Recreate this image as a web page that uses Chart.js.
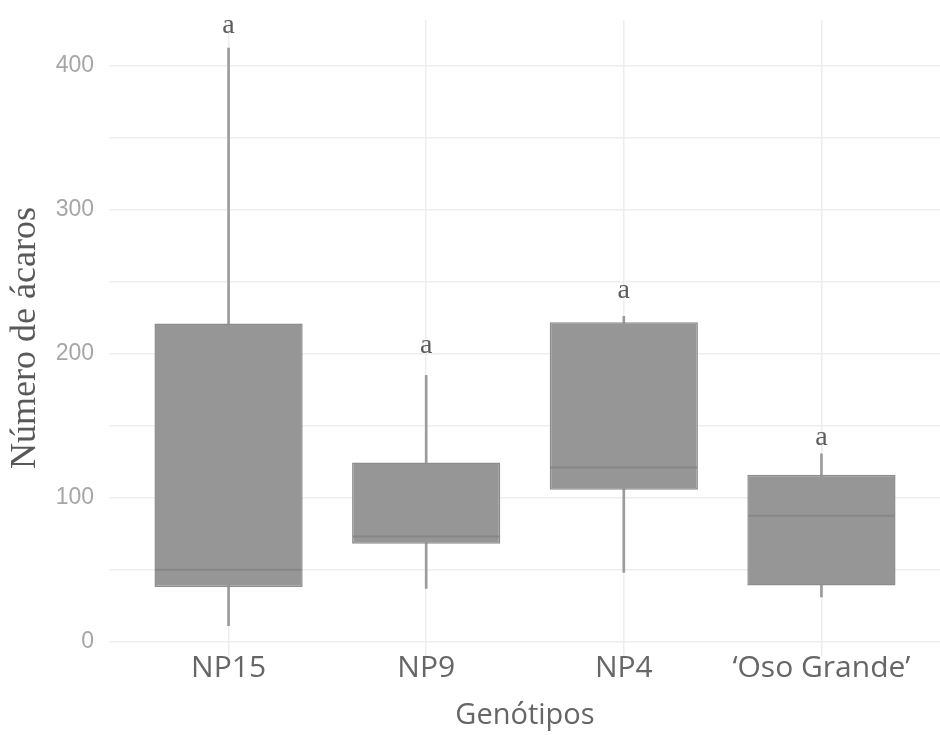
<!DOCTYPE html>
<html>
<head>
<meta charset="utf-8">
<script src="https://cdn.jsdelivr.net/npm/chart.js@4.4.1/dist/chart.umd.min.js"></script>
<style>
  html, body { margin: 0; padding: 0; background: #fff; }
  #wrap { width: 940px; height: 735px; }
</style>
</head>
<body>
<div id="wrap"><canvas id="grafiek" width="940" height="735"></canvas></div>
<script>
// waarden
const genotipos = ["NP15", "NP9", "NP4", "‘Oso Grande’"];
const minimo = [11, 37, 48, 31];
const q1 = [38, 68, 105.5, 39];
const mediana = [50, 73, 121, 87.5];
const q3 = [221, 124.5, 222, 116];
const maximo = [412.5, 185, 226, 130.5];
const letras = ["a", "a", "a", "a"];
const letraY = [428, 206, 244, 142];

const cajas = genotipos.map((g, i) => ({ x: i, y: [q1[i], q3[i]] }));
const bigotes = genotipos.map((g, i) => ({ x: i, y: [minimo[i], maximo[i]] }));

// mediaan en letters tekenen via de schalen van chart.js
const extras = {
  id: "extras",
  afterDatasetsDraw(chart) {
    const ctx = chart.ctx;
    const xs = chart.scales.x;
    const ys = chart.scales.y;
    const meta = chart.getDatasetMeta(1);
    ctx.save();
    meta.data.forEach((el, i) => {
      const y = ys.getPixelForValue(mediana[i]);
      ctx.strokeStyle = "#868686";
      ctx.lineWidth = 2;
      ctx.beginPath();
      ctx.moveTo(el.x - el.width / 2 + 1, y);
      ctx.lineTo(el.x + el.width / 2 - 1, y);
      ctx.stroke();
    });
    ctx.fillStyle = "#5c5c5c";
    ctx.font = "28px 'Liberation Serif'";
    ctx.textAlign = "center";
    ctx.textBaseline = "middle";
    letras.forEach((l, i) => {
      ctx.fillText(l, xs.getPixelForValue(i), ys.getPixelForValue(letraY[i]));
    });
    ctx.restore();
  }
};

new Chart(document.getElementById("grafiek"), {
  type: "bar",
  data: {
    datasets: [
      {
        label: "bigotes",
        data: bigotes,
        backgroundColor: "#9b9b9b",
        barThickness: 2,
        grouped: false,
        order: 2
      },
      {
        label: "cajas",
        data: cajas,
        backgroundColor: "#969696",
        borderColor: "#8d8d8d",
        borderWidth: 1.5,
        borderSkipped: false,
        barPercentage: 0.75,
        categoryPercentage: 1,
        grouped: false,
        order: 1
      }
    ]
  },
  options: {
    responsive: false,
    animation: false,
    layout: { padding: { top: 20, left: 0, right: 0, bottom: 0 } },
    plugins: { legend: { display: false }, tooltip: { enabled: false } },
    scales: {
      x: {
        type: "linear",
        min: -0.6,
        max: 3.6,
        offset: false,
        afterBuildTicks: (s) => {
          s.ticks = genotipos.map((g, i) => ({ value: i }));
        },
        afterFit: (s) => {
          s.height = 79;
          s.paddingLeft = 0;
          s.paddingRight = 0;
        },
        ticks: {
          callback: (v) => genotipos[v],
          color: "#666666",
          font: { family: "'Open Sans'", size: 30, lineHeight: 1 },
          padding: -3,
          maxRotation: 0,
          autoSkip: false
        },
        grid: { offset: false, color: "#eeeeee", lineWidth: 1.5, drawTicks: false },
        border: { display: false },
        title: {
          display: true,
          text: "Genótipos",
          color: "#666666",
          font: { family: "'Open Sans'", size: 29 },
          padding: { top: 0, bottom: 2 }
        }
      },
      y: {
        min: -10,
        max: 432,
        afterBuildTicks: (s) => {
          const t = [];
          for (let v = 0; v <= 400; v += 50) t.push({ value: v });
          s.ticks = t;
        },
        afterFit: (s) => {
          s.width = 110;
          s.paddingTop = 0;
          s.paddingBottom = 0;
        },
        ticks: {
          callback: (v) => (v % 100 === 0 ? v : ""),
          color: "#a6a6a6",
          font: { family: "'Liberation Sans'", size: 23 },
          padding: 16
        },
        grid: { color: "#eeeeee", lineWidth: 1.5, drawTicks: false },
        border: { display: false },
        title: {
          display: true,
          text: "Número de ácaros",
          color: "#595959",
          font: { family: "'Liberation Serif'", size: 36 },
          padding: { top: 4, bottom: 0 }
        }
      }
    }
  },
  plugins: [extras]
});
</script>
</body>
</html>
